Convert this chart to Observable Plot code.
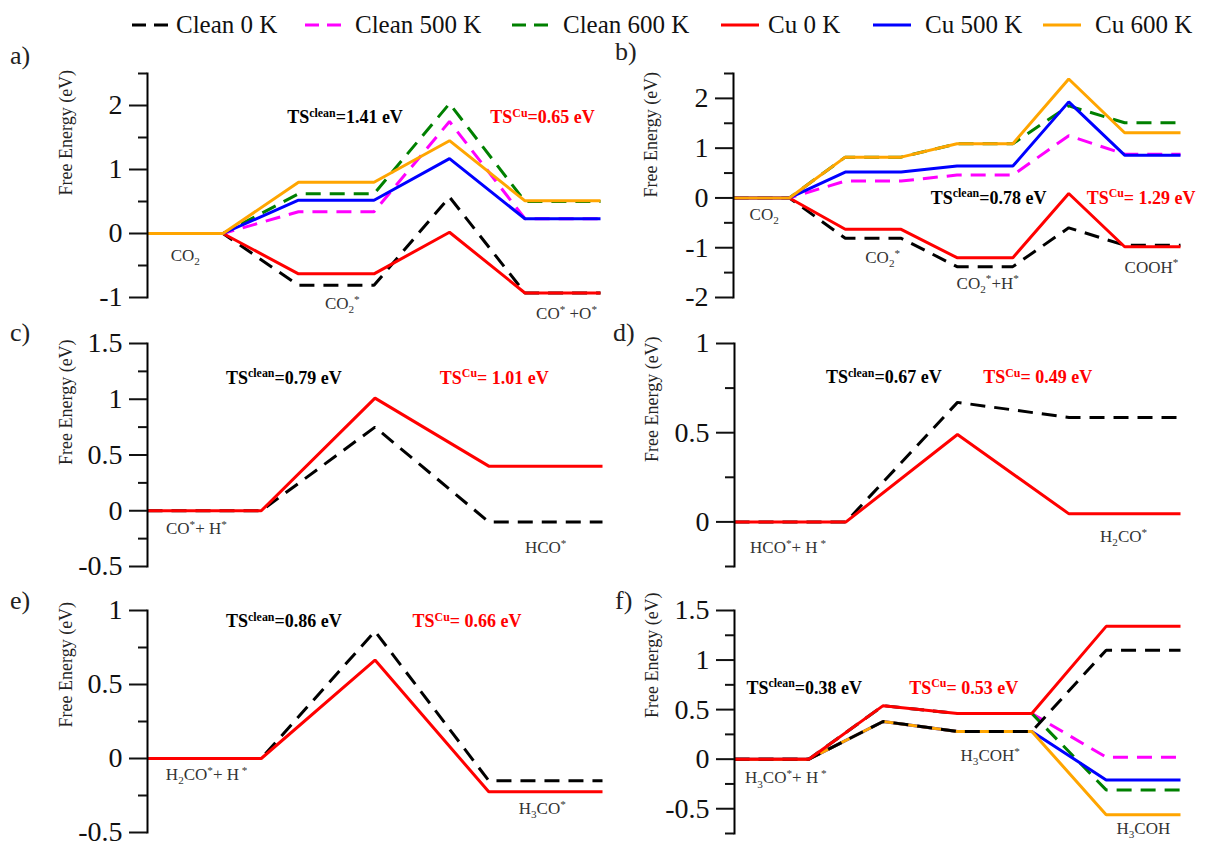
<!DOCTYPE html>
<html><head><meta charset="utf-8">
<script src="https://cdn.jsdelivr.net/npm/d3@7"></script>
<script src="https://cdn.jsdelivr.net/npm/@observablehq/plot@0.6"></script>
<style>
body{margin:0;background:#fff;}
#root{position:relative;width:1219px;height:846px;background:#fff;font-family:"Liberation Serif","Times New Roman",serif;overflow:hidden}
.panel{position:absolute}
.letter{position:absolute;font-size:26px;color:#222;line-height:1}
.leg{position:absolute;font-size:25px;color:#111;line-height:1;white-space:nowrap}
.sw{position:absolute}
</style></head><body><div id="root"></div>
<script>
// ---------- data ----------
const seriesNames = ["Clean 0 K","Clean 500 K","Clean 600 K","Cu 0 K","Cu 500 K","Cu 600 K"];
const seriesColors = ["#000000","#ff00ff","#008000","#ff0000","#0000ff","#ffa500"];
const seriesDashed = [true,true,true,false,false,false];

// a) CO2 -> CO* + O*
const aClean0   = [0,0,-0.81,-0.81,0.57,-0.93,-0.93];
const aClean500 = [0,0,0.34,0.34,1.75,0.23,0.23];
const aClean600 = [0,0,0.62,0.62,2.03,0.50,0.50];
const aCu0      = [0,0,-0.63,-0.63,0.02,-0.93,-0.93];
const aCu500    = [0,0,0.52,0.52,1.17,0.23,0.23];
const aCu600    = [0,0,0.80,0.80,1.45,0.51,0.51];
// b) CO2 -> COOH*
const bClean0   = [0,0,-0.81,-0.81,-1.38,-1.38,-0.60,-0.95,-0.95];
const bClean500 = [0,0,0.34,0.34,0.46,0.46,1.25,0.88,0.88];
const bClean600 = [0,0,0.82,0.82,1.09,1.09,1.85,1.51,1.51];
const bCu0      = [0,0,-0.63,-0.63,-1.20,-1.20,0.09,-0.98,-0.98];
const bCu500    = [0,0,0.52,0.52,0.64,0.64,1.93,0.86,0.86];
const bCu600    = [0,0,0.82,0.82,1.09,1.09,2.39,1.31,1.31];
// c) CO* + H* -> HCO*
const cClean0 = [0,0,0.75,-0.10,-0.10];
const cCu0    = [0,0,1.01,0.40,0.40];
// d) HCO* + H* -> H2CO*
const dClean0 = [0,0,0.67,0.585,0.585];
const dCu0    = [0,0,0.49,0.045,0.045];
// e) H2CO* + H* -> H3CO*
const eClean0 = [0,0,0.86,-0.15,-0.15];
const eCu0    = [0,0,0.665,-0.225,-0.225];
// f) H3CO* + H* -> H3COH
const fClean0   = [0,0,0.38,0.28,0.28,1.10,1.10];
const fClean500 = [0,0,0.54,0.46,0.46,0.02,0.02];
const fClean600 = [0,0,0.54,0.46,0.46,-0.31,-0.31];
const fCu0      = [0,0,0.54,0.46,0.46,1.34,1.34];
const fCu500    = [0,0,0.38,0.28,0.28,-0.21,-0.21];
const fCu600    = [0,0,0.38,0.28,0.28,-0.56,-0.56];

// tick labels
const aMajor = [-1,0,1,2],        aMinor = [-0.5,0.5,1.5,2.5];
const bMajor = [-2,-1,0,1,2],     bMinor = [-1.5,-0.5,0.5,1.5,2.5];
const cMajor = [-0.5,0,0.5,1,1.5], cMinor = [-0.25,0.25,0.75,1.25];
const dMajor = [0,0.5,1],         dMinor = [-0.25,0.25,0.75];
const eMajor = [-0.5,0,0.5,1],    eMinor = [-0.25,0.25,0.75];
const fMajor = [-0.5,0,0.5,1,1.5], fMinor = [-0.75,-0.25,0.25,0.75,1.25];

// texts
const aSpecies = ["CO_{2}","CO_{2}^{*}","CO^{*} +O^{*}"];
const bSpecies = ["CO_{2}","CO_{2}^{*}","CO_{2}^{*}+H^{*}","COOH^{*}"];
const cSpecies = ["CO^{*}+ H^{*}","HCO^{*}"];
const dSpecies = ["HCO^{*}+ H^{ *}","H_{2}CO^{*}"];
const eSpecies = ["H_{2}CO^{*}+ H^{ *}","H_{3}CO^{*}"];
const fSpecies = ["H_{3}CO^{*}+ H^{ *}","H_{3}COH^{*}","H_{3}COH"];
const tsClean = ["1.41","0.78","0.79","0.67","0.86","0.38"];
const tsCu    = ["0.65","1.29","1.01","0.49","0.66","0.53"];
const panelLetters = ["a)","b)","c)","d)","e)","f)"];
const yTitle = "Free Energy (eV)";

// ---------- layout ----------
const panels = [
 {values:[aClean0,aClean500,aClean600,aCu0,aCu500,aCu600], order:[0,1,2,3,4,5], domain:[-1,2.5], major:aMajor, minor:aMinor,
  species:aSpecies, left:0, top:40, width:605, height:285, mt:33, mb:28, ml:147, mr:5, titleDy:10, cuSep:"=",
  spPos:[[0.5,-0.34],[2.58,-1.1],[5.55,-1.25]], tsPos:[[1.85,1.81],[4.54,1.81]], lx:10, ly:43},
 {values:[bClean0,bClean500,bClean600,bCu0,bCu500,bCu600], order:[0,1,2,3,4,5], domain:[-2,2.5], major:bMajor, minor:bMinor,
  species:bSpecies, left:605, top:40, width:614, height:285, mt:33, mb:28, ml:128, mr:39, titleDy:12, cuSep:"= ",
  spPos:[[0.55,-0.34],[2.67,-1.19],[4.55,-1.71],[7.48,-1.39]], tsPos:[[3.53,0],[6.32,0]], lx:615, ly:39},
 {values:[cClean0,null,null,cCu0,null,null], order:[0,3], domain:[-0.5,1.5], major:cMajor, minor:cMinor,
  species:cSpecies, left:0, top:325, width:605, height:255, mt:18, mb:14, ml:147, mr:3, titleDy:10, cuSep:"= ",
  spPos:[[0.43,-0.16],[3.5,-0.33]], tsPos:[[0.69,1.19],[2.57,1.19]], lx:10, ly:320},
 {values:[dClean0,null,null,dCu0,null,null], order:[0,3], domain:[-0.25,1], major:dMajor, minor:dMinor,
  species:dSpecies, left:605, top:325, width:614, height:255, mt:18, mb:14, ml:129, mr:39, titleDy:7, cuSep:"= ",
  spPos:[[0.48,-0.146],[3.49,-0.08]], tsPos:[[0.82,0.81],[2.23,0.81]], lx:613, ly:320},
 {values:[eClean0,null,null,eCu0,null,null], order:[0,3], domain:[-0.5,1], major:eMajor, minor:eMinor,
  species:eSpecies, left:0, top:578, width:605, height:266, mt:32, mb:12, ml:147, mr:3, titleDy:6, cuSep:"= ",
  spPos:[[0.52,-0.107],[3.47,-0.34]], tsPos:[[0.69,0.926],[2.33,0.926]], lx:10, ly:588},
 {values:[fClean0,fClean500,fClean600,fCu0,fCu500,fCu600], order:[1,2,4,5,0,3], domain:[-0.75,1.5], major:fMajor, minor:fMinor,
  species:fSpecies, left:605, top:578, width:614, height:266, mt:32, mb:11, ml:129, mr:39, titleDy:-4, cuSep:"= ",
  spPos:[[0.69,-0.19],[3.44,0.04],[5.5,-0.7]], tsPos:[[0.16,0.72],[2.35,0.72]], lx:615, ly:588}
];

const root = document.getElementById("root");
const FONT = "'Liberation Serif','Times New Roman',serif";

function richify(svg) {
  svg.querySelectorAll("text").forEach(el => {
    const s = el.textContent;
    if (!/[\^_]\{/.test(s)) return;
    const fs = parseFloat(getComputedStyle(el).fontSize) || 16;
    el.textContent = "";
    const re = /([\^_])\{([^}]*)\}|([^\^_]+)/g;
    let m, off = 0;
    while ((m = re.exec(s))) {
      const ts = document.createElementNS("http://www.w3.org/2000/svg", "tspan");
      let target = 0, txt = m[3];
      if (m[1]) {
        target = m[1] === "^" ? -0.36 * fs : 0.24 * fs;
        txt = m[2];
        ts.setAttribute("font-size", (0.66 * fs).toFixed(1));
      }
      const d = target - off;
      if (d) ts.setAttribute("dy", d.toFixed(2));
      off = target;
      ts.textContent = txt;
      el.appendChild(ts);
    }
  });
}

panels.forEach((p, k) => {
  const n = p.values.find(v => v).length;
  const marks = [];
  p.order.forEach(si => {
    const vals = p.values[si];
    if (!vals) return;
    const rows = vals.map((v, i) => ({i, v, s: seriesNames[si]}));
    const opts = {x: "i", y: "v", stroke: seriesColors[si], strokeWidth: 3, strokeLinejoin: "miter", strokeLinecap: "butt"};
    if (seriesDashed[si]) opts.strokeDasharray = "15,9";
    marks.push(Plot.line(rows, opts));
  });
  marks.push(Plot.frame({anchor: "left", stroke: "#000", strokeWidth: 2}));
  marks.push(Plot.axisY({ticks: p.major, tickSize: 18, tickPadding: 7, strokeWidth: 2, fontSize: 28, fontFamily: FONT, tickFormat: d => String(d), label: null}));
  marks.push(Plot.axisY({ticks: p.minor, tickSize: 9, strokeWidth: 2, tickFormat: () => "", label: null}));
  marks.push(Plot.text(p.species.map((t, j) => ({t, x: p.spPos[j][0], y: p.spPos[j][1]})),
    {x: "x", y: "y", text: "t", fontSize: 17, fontFamily: FONT, fill: "#333"}));
  marks.push(Plot.text([
      {t: "TS^{clean}=" + tsClean[k] + " eV", x: p.tsPos[0][0], y: p.tsPos[0][1], c: "#000000"},
      {t: "TS^{Cu}" + p.cuSep + tsCu[k] + " eV", x: p.tsPos[1][0], y: p.tsPos[1][1], c: "#ff0000"}],
    {x: "x", y: "y", text: "t", fill: d => d.c, fontSize: 18, fontFamily: FONT, fontWeight: "bold", textAnchor: "start"}));
  marks.push(Plot.text([yTitle], {frameAnchor: "left", rotate: -90, dx: p.left === 0 ? -81 : -82, dy: p.titleDy, fontSize: 18, fontFamily: FONT, fill: "#222"}));

  const svg = Plot.plot({
    width: p.width, height: p.height,
    marginTop: p.mt, marginBottom: p.mb, marginLeft: p.ml, marginRight: p.mr,
    x: {domain: [0, n - 1], axis: null},
    y: {domain: p.domain},
    style: {background: "transparent", fontFamily: FONT, color: "#111", overflow: "visible"},
    marks
  });
  svg.classList.add("panel");
  svg.style.left = p.left + "px";
  svg.style.top = p.top + "px";
  svg.style.position = "absolute";
  root.appendChild(svg);
  richify(svg);

  const lt = document.createElement("div");
  lt.className = "letter";
  lt.textContent = panelLetters[k];
  lt.style.left = p.lx + "px";
  lt.style.top = p.ly + "px";
  root.appendChild(lt);
});

// ---------- legend ----------
const legendPos = [[132,176],[305,355],[512,563],[721,768],[873,925],[1043,1095]];
seriesNames.forEach((name, si) => {
  const [sx, tx] = legendPos[si];
  const sw = document.createElementNS("http://www.w3.org/2000/svg", "svg");
  sw.setAttribute("width", 40); sw.setAttribute("height", 10);
  sw.setAttribute("class", "sw");
  sw.style.left = sx + "px"; sw.style.top = "20px";
  const ln = document.createElementNS("http://www.w3.org/2000/svg", "line");
  ln.setAttribute("x1", 0); ln.setAttribute("x2", seriesDashed[si] ? 36 : 38);
  ln.setAttribute("y1", 5); ln.setAttribute("y2", 5);
  ln.setAttribute("stroke", seriesColors[si]); ln.setAttribute("stroke-width", 3);
  if (seriesDashed[si]) ln.setAttribute("stroke-dasharray", "14,8");
  sw.appendChild(ln);
  root.appendChild(sw);
  const t = document.createElement("div");
  t.className = "leg";
  t.textContent = name;
  t.style.left = tx + "px"; t.style.top = "12px";
  root.appendChild(t);
});
</script></body></html>
